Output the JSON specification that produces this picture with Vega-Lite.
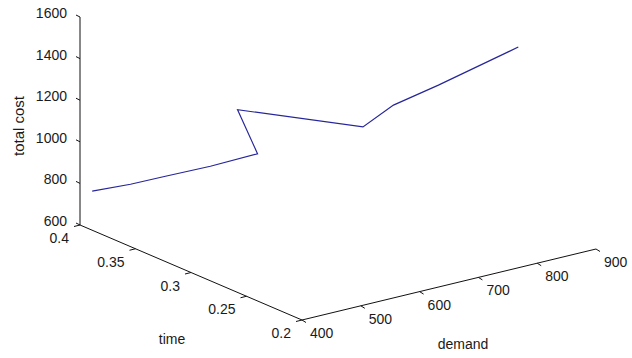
{
  "$schema": "https://vega.github.io/schema/vega-lite/v6.json",
  "width": 632,
  "height": 358,
  "padding": 0,
  "autosize": {"type": "none"},
  "background": "white",
  "config": {"view": {"stroke": null}, "font": "Liberation Sans", "text": {"font": "Liberation Sans", "fontSize": 14, "color": "#1a1a1a"}},
  "data": {
    "values": [
      {"kind": "curve", "order": 1, "demand": 400, "time": 0.389, "cost": 788},
      {"kind": "curve", "order": 2, "demand": 450, "time": 0.381, "cost": 805},
      {"kind": "curve", "order": 3, "demand": 500, "time": 0.376, "cost": 821},
      {"kind": "curve", "order": 4, "demand": 550, "time": 0.362, "cost": 867},
      {"kind": "curve", "order": 5, "demand": 600, "time": 0.346, "cost": 929},
      {"kind": "curve", "order": 6, "demand": 600, "time": 0.364, "cost": 1100},
      {"kind": "curve", "order": 7, "demand": 700, "time": 0.304, "cost": 1086},
      {"kind": "curve", "order": 8, "demand": 750, "time": 0.303, "cost": 1159},
      {"kind": "curve", "order": 9, "demand": 800, "time": 0.289, "cost": 1253},
      {"kind": "curve", "order": 10, "demand": 900, "time": 0.27, "cost": 1411},
      {"kind": "axis", "axis": "cost", "demand": 400, "time": 0.4, "cost": 600, "demand2": 400, "time2": 0.4, "cost2": 1600},
      {"kind": "axis", "axis": "time", "demand": 400, "time": 0.4, "cost": 600, "demand2": 400, "time2": 0.2, "cost2": 600},
      {"kind": "axis", "axis": "demand", "demand": 400, "time": 0.2, "cost": 600, "demand2": 900, "time2": 0.2, "cost2": 600},
      {"kind": "tick", "axis": "cost", "demand": 400, "time": 0.4, "cost": 600, "label": "600"},
      {"kind": "tick", "axis": "cost", "demand": 400, "time": 0.4, "cost": 800, "label": "800"},
      {"kind": "tick", "axis": "cost", "demand": 400, "time": 0.4, "cost": 1000, "label": "1000"},
      {"kind": "tick", "axis": "cost", "demand": 400, "time": 0.4, "cost": 1200, "label": "1200"},
      {"kind": "tick", "axis": "cost", "demand": 400, "time": 0.4, "cost": 1400, "label": "1400"},
      {"kind": "tick", "axis": "cost", "demand": 400, "time": 0.4, "cost": 1600, "label": "1600"},
      {"kind": "tick", "axis": "time", "demand": 400, "time": 0.4, "cost": 600, "label": "0.4"},
      {"kind": "tick", "axis": "time", "demand": 400, "time": 0.35, "cost": 600, "label": "0.35"},
      {"kind": "tick", "axis": "time", "demand": 400, "time": 0.3, "cost": 600, "label": "0.3"},
      {"kind": "tick", "axis": "time", "demand": 400, "time": 0.25, "cost": 600, "label": "0.25"},
      {"kind": "tick", "axis": "time", "demand": 400, "time": 0.2, "cost": 600, "label": "0.2"},
      {"kind": "tick", "axis": "demand", "demand": 400, "time": 0.2, "cost": 600, "label": "400"},
      {"kind": "tick", "axis": "demand", "demand": 500, "time": 0.2, "cost": 600, "label": "500"},
      {"kind": "tick", "axis": "demand", "demand": 600, "time": 0.2, "cost": 600, "label": "600"},
      {"kind": "tick", "axis": "demand", "demand": 700, "time": 0.2, "cost": 600, "label": "700"},
      {"kind": "tick", "axis": "demand", "demand": 800, "time": 0.2, "cost": 600, "label": "800"},
      {"kind": "tick", "axis": "demand", "demand": 900, "time": 0.2, "cost": 600, "label": "900"},
      {"kind": "title", "axis": "cost", "demand": 400, "time": 0.4, "cost": 1100, "label": "total cost"},
      {"kind": "title", "axis": "time", "demand": 400, "time": 0.3, "cost": 600, "label": "time"},
      {"kind": "title", "axis": "demand", "demand": 650, "time": 0.2, "cost": 600, "label": "demand"}
    ]
  },
  "transform": [
    {"calculate": "0.588*(datum.demand-400)+1110*(0.4-datum.time)", "as": "px"},
    {"calculate": "0.142*(datum.demand-400)-475*(0.4-datum.time)+0.208*(datum.cost-600)", "as": "py"},
    {"calculate": "0.588*(datum.demand2-400)+1110*(0.4-datum.time2)", "as": "px2"},
    {"calculate": "0.142*(datum.demand2-400)-475*(0.4-datum.time2)+0.208*(datum.cost2-600)", "as": "py2"}
  ],
  "encoding": {
    "x": {"field": "px", "type": "quantitative", "scale": {"domain": [-80, 552], "nice": false, "zero": false}, "axis": null},
    "y": {"field": "py", "type": "quantitative", "scale": {"domain": [-133, 225], "nice": false, "zero": false}, "axis": null}
  },
  "layer": [
    {
      "transform": [{"filter": "datum.kind === 'axis'"}],
      "mark": {"type": "rule", "color": "#111111", "strokeWidth": 1},
      "encoding": {"x2": {"field": "px2"}, "y2": {"field": "py2"}}
    },
    {
      "transform": [{"filter": "datum.kind === 'tick' && datum.axis === 'cost'"}],
      "mark": {"type": "rule", "color": "#111111", "strokeWidth": 1, "x2Offset": -4, "y2Offset": -2},
      "encoding": {"x2": {"field": "px"}, "y2": {"field": "py"}}
    },
    {
      "transform": [{"filter": "datum.kind === 'tick' && datum.axis === 'time'"}],
      "mark": {"type": "rule", "color": "#111111", "strokeWidth": 1, "x2Offset": -6, "y2Offset": 1.5},
      "encoding": {"x2": {"field": "px"}, "y2": {"field": "py"}}
    },
    {
      "transform": [{"filter": "datum.kind === 'tick' && datum.axis === 'demand'"}],
      "mark": {"type": "rule", "color": "#111111", "strokeWidth": 1, "x2Offset": 4, "y2Offset": 2.5},
      "encoding": {"x2": {"field": "px"}, "y2": {"field": "py"}}
    },
    {
      "transform": [{"filter": "datum.kind === 'tick' && datum.axis === 'cost'"}],
      "mark": {"type": "text", "align": "right", "baseline": "middle", "dx": -13, "dy": -3},
      "encoding": {"text": {"field": "label"}}
    },
    {
      "transform": [{"filter": "datum.kind === 'tick' && datum.axis === 'time'"}],
      "mark": {"type": "text", "align": "right", "baseline": "middle", "dx": -11, "dy": 14},
      "encoding": {"text": {"field": "label"}}
    },
    {
      "transform": [{"filter": "datum.kind === 'tick' && datum.axis === 'demand'"}],
      "mark": {"type": "text", "align": "left", "baseline": "middle", "dx": 8, "dy": 14},
      "encoding": {"text": {"field": "label"}}
    },
    {
      "transform": [{"filter": "datum.kind === 'title' && datum.axis === 'cost'"}],
      "mark": {"type": "text", "align": "center", "baseline": "middle", "angle": 270, "dx": -5, "dy": -61, "fontSize": 15},
      "encoding": {"text": {"field": "label"}}
    },
    {
      "transform": [{"filter": "datum.kind === 'title' && datum.axis === 'time'"}],
      "mark": {"type": "text", "align": "center", "baseline": "middle", "dx": -19, "dy": 67},
      "encoding": {"text": {"field": "label"}}
    },
    {
      "transform": [{"filter": "datum.kind === 'title' && datum.axis === 'demand'"}],
      "mark": {"type": "text", "align": "center", "baseline": "middle", "dx": 14, "dy": 60},
      "encoding": {"text": {"field": "label"}}
    },
    {
      "transform": [{"filter": "datum.kind === 'curve'"}],
      "mark": {"type": "line", "color": "#26269a", "strokeWidth": 1.2},
      "encoding": {"order": {"field": "order", "type": "quantitative"}}
    }
  ]
}
